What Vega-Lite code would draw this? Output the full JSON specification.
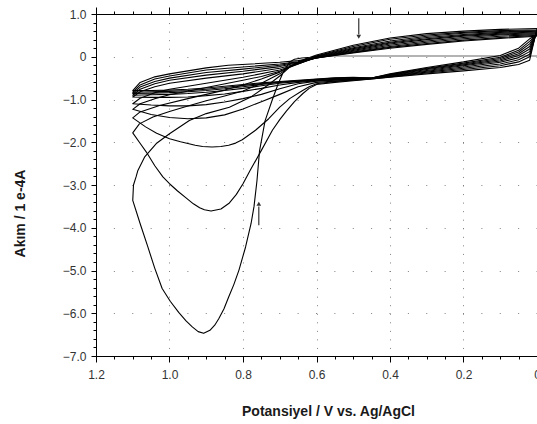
{
"$schema": "https://vega.github.io/schema/vega-lite/v6.json",
"width": 441, "height": 342,
"autosize": {"type": "none"},
"padding": {"left": 96, "top": 14, "right": 0, "bottom": 68},
"background": "white",
"config": {"view": {"stroke": "#000", "strokeWidth": 1},
 "axis": {"labelFont": "Liberation Sans", "titleFont": "Liberation Sans", "domainColor": "#000", "tickColor": "#000", "labelColor": "#333", "labelFontSize": 12, "titleFontSize": 14, "titleFontWeight": "bold", "titleColor": "#1a1a1a", "gridColor": "#808080", "labelOverlap": false}},
"resolve": {"axis": {"x": "independent", "y": "independent"}},
"layer": [
{
 "data": {"values": [{"v": 0.6, "a": 0.015}, {"v": 0.0, "a": 0.015}]},
 "mark": {"type": "line", "color": "#9a9a9a", "strokeWidth": 1.5},
 "encoding": {
  "x": {"field": "v", "type": "quantitative", "scale": {"domain": [0, 1.2], "reverse": true, "nice": false, "zero": false},
   "axis": {"orient": "top", "labels": false, "title": null, "grid": false, "domain": true,
    "values": [0,0.05,0.1,0.15,0.2,0.25,0.3,0.35,0.4,0.45,0.5,0.55,0.6,0.65,0.7,0.75,0.8,0.85,0.9,0.95,1.0,1.05,1.1,1.15,1.2],
    "tickSize": {"condition": {"test": "abs(datum.value*5-round(datum.value*5))<0.001", "value": 7}, "value": 3}}},
  "y": {"field": "a", "type": "quantitative", "scale": {"domain": [-7, 1], "nice": false, "zero": false},
   "axis": {"orient": "left", "labels": false, "title": null, "grid": false, "domain": false, "tickSize": 3,
    "values": [-6.8,-6.6,-6.4,-6.2,-5.8,-5.6,-5.4,-5.2,-4.8,-4.6,-4.4,-4.2,-3.8,-3.6,-3.4,-3.2,-2.8,-2.6,-2.4,-2.2,-1.8,-1.6,-1.4,-1.2,-0.8,-0.6,-0.4,-0.2,0.2,0.4,0.6,0.8]}},
  "order": {"value": null}
 }
},
{
 "data": {"values": [
{"c":1,"v":0.6,"a":0},{"c":1,"v":0.64,"a":-0.03},{"c":1,"v":0.66,"a":-0.06},{"c":1,"v":0.673,"a":-0.12},{"c":1,"v":0.69,"a":-0.35},{"c":1,"v":0.705,"a":-0.65},{"c":1,"v":0.72,"a":-1.0},{"c":1,"v":0.74,"a":-1.5},{"c":1,"v":0.755,"a":-2.2},{"c":1,"v":0.762,"a":-2.9},{"c":1,"v":0.77,"a":-3.5},{"c":1,"v":0.778,"a":-3.9},{"c":1,"v":0.793,"a":-4.45},{"c":1,"v":0.811,"a":-4.99},{"c":1,"v":0.825,"a":-5.33},{"c":1,"v":0.839,"a":-5.62},{"c":1,"v":0.852,"a":-5.9},{"c":1,"v":0.866,"a":-6.13},{"c":1,"v":0.877,"a":-6.28},{"c":1,"v":0.89,"a":-6.4},{"c":1,"v":0.907,"a":-6.47},{"c":1,"v":0.922,"a":-6.43},{"c":1,"v":0.938,"a":-6.32},{"c":1,"v":0.955,"a":-6.18},{"c":1,"v":0.975,"a":-5.98},{"c":1,"v":0.998,"a":-5.72},{"c":1,"v":1.02,"a":-5.42},{"c":1,"v":1.04,"a":-4.95},{"c":1,"v":1.06,"a":-4.42},{"c":1,"v":1.08,"a":-3.9},{"c":1,"v":1.1,"a":-3.36},
{"c":1,"v":1.098,"a":-3.0},{"c":1,"v":1.091,"a":-2.81},{"c":1,"v":1.086,"a":-2.66},{"c":1,"v":1.068,"a":-2.35},{"c":1,"v":1.036,"a":-2.03},{"c":1,"v":1.0,"a":-1.8},{"c":1,"v":0.946,"a":-1.49},{"c":1,"v":0.9,"a":-1.33},{"c":1,"v":0.837,"a":-1.18},{"c":1,"v":0.78,"a":-0.95},{"c":1,"v":0.73,"a":-0.65},{"c":1,"v":0.7,"a":-0.45},{"c":1,"v":0.67,"a":-0.22},{"c":1,"v":0.64,"a":-0.08},{"c":1,"v":0.6,"a":0.04},{"c":1,"v":0.5,"a":0.27},{"c":1,"v":0.4,"a":0.44},{"c":1,"v":0.3,"a":0.54},{"c":1,"v":0.2,"a":0.6},{"c":1,"v":0.1,"a":0.64},{"c":1,"v":0.0,"a":0.66},

{"c":2,"v":0.0,"a":0.66},{"c":2,"v":0.02,"a":-0.08},{"c":2,"v":0.05,"a":-0.18},{"c":2,"v":0.1,"a":-0.25},{"c":2,"v":0.2,"a":-0.33},{"c":2,"v":0.3,"a":-0.4},{"c":2,"v":0.4,"a":-0.48},{"c":2,"v":0.45,"a":-0.52},{"c":2,"v":0.5,"a":-0.56},{"c":2,"v":0.55,"a":-0.6},{"c":2,"v":0.6,"a":-0.65},{"c":2,"v":0.62,"a":-0.74},{"c":2,"v":0.637,"a":-0.86},{"c":2,"v":0.66,"a":-1.05},{"c":2,"v":0.682,"a":-1.27},{"c":2,"v":0.7,"a":-1.47},{"c":2,"v":0.72,"a":-1.72},{"c":2,"v":0.75,"a":-2.19},{"c":2,"v":0.78,"a":-2.65},{"c":2,"v":0.8,"a":-2.97},{"c":2,"v":0.818,"a":-3.22},{"c":2,"v":0.837,"a":-3.42},{"c":2,"v":0.86,"a":-3.56},{"c":2,"v":0.887,"a":-3.61},{"c":2,"v":0.905,"a":-3.58},{"c":2,"v":0.918,"a":-3.53},{"c":2,"v":0.935,"a":-3.44},{"c":2,"v":0.955,"a":-3.3},{"c":2,"v":0.978,"a":-3.14},{"c":2,"v":1.0,"a":-2.97},{"c":2,"v":1.018,"a":-2.81},{"c":2,"v":1.04,"a":-2.55},{"c":2,"v":1.063,"a":-2.23},{"c":2,"v":1.082,"a":-2.0},{"c":2,"v":1.1,"a":-1.78},
{"c":2,"v":1.082,"a":-1.57},{"c":2,"v":1.045,"a":-1.41},{"c":2,"v":1.0,"a":-1.28},{"c":2,"v":0.95,"a":-1.15},{"c":2,"v":0.9,"a":-1.03},{"c":2,"v":0.85,"a":-0.92},{"c":2,"v":0.8,"a":-0.8},{"c":2,"v":0.75,"a":-0.62},{"c":2,"v":0.7,"a":-0.4},{"c":2,"v":0.67,"a":-0.22},{"c":2,"v":0.64,"a":-0.1},{"c":2,"v":0.6,"a":0.02},{"c":2,"v":0.5,"a":0.24},{"c":2,"v":0.4,"a":0.41},{"c":2,"v":0.3,"a":0.51},{"c":2,"v":0.2,"a":0.57},{"c":2,"v":0.1,"a":0.61},{"c":2,"v":0.0,"a":0.63},

{"c":3,"v":0.0,"a":0.63},{"c":3,"v":0.02,"a":0.0},{"c":3,"v":0.05,"a":-0.12},{"c":3,"v":0.1,"a":-0.21},{"c":3,"v":0.2,"a":-0.3},{"c":3,"v":0.3,"a":-0.38},{"c":3,"v":0.4,"a":-0.47},{"c":3,"v":0.45,"a":-0.52},{"c":3,"v":0.5,"a":-0.55},{"c":3,"v":0.55,"a":-0.58},{"c":3,"v":0.6,"a":-0.63},{"c":3,"v":0.62,"a":-0.7},{"c":3,"v":0.64,"a":-0.8},{"c":3,"v":0.673,"a":-0.98},{"c":3,"v":0.7,"a":-1.18},{"c":3,"v":0.73,"a":-1.45},{"c":3,"v":0.766,"a":-1.72},{"c":3,"v":0.802,"a":-1.94},{"c":3,"v":0.82,"a":-2.02},{"c":3,"v":0.839,"a":-2.07},{"c":3,"v":0.86,"a":-2.1},{"c":3,"v":0.884,"a":-2.11},{"c":3,"v":0.91,"a":-2.1},{"c":3,"v":0.93,"a":-2.07},{"c":3,"v":0.97,"a":-1.99},{"c":3,"v":1.0,"a":-1.92},{"c":3,"v":1.035,"a":-1.79},{"c":3,"v":1.065,"a":-1.64},{"c":3,"v":1.1,"a":-1.43},
{"c":3,"v":1.08,"a":-1.29},{"c":3,"v":1.027,"a":-1.14},{"c":3,"v":0.95,"a":-0.98},{"c":3,"v":0.9,"a":-0.88},{"c":3,"v":0.85,"a":-0.78},{"c":3,"v":0.8,"a":-0.66},{"c":3,"v":0.75,"a":-0.52},{"c":3,"v":0.7,"a":-0.36},{"c":3,"v":0.67,"a":-0.22},{"c":3,"v":0.64,"a":-0.1},{"c":3,"v":0.6,"a":0.01},{"c":3,"v":0.5,"a":0.21},{"c":3,"v":0.4,"a":0.37},{"c":3,"v":0.3,"a":0.48},{"c":3,"v":0.2,"a":0.55},{"c":3,"v":0.1,"a":0.59},{"c":3,"v":0.0,"a":0.61},

{"c":4,"v":0.0,"a":0.61},{"c":4,"v":0.02,"a":0.06},{"c":4,"v":0.05,"a":-0.07},{"c":4,"v":0.1,"a":-0.17},{"c":4,"v":0.2,"a":-0.27},{"c":4,"v":0.3,"a":-0.36},{"c":4,"v":0.4,"a":-0.46},{"c":4,"v":0.45,"a":-0.51},{"c":4,"v":0.5,"a":-0.54},{"c":4,"v":0.55,"a":-0.57},{"c":4,"v":0.6,"a":-0.6},{"c":4,"v":0.65,"a":-0.7},{"c":4,"v":0.7,"a":-0.88},{"c":4,"v":0.75,"a":-1.05},{"c":4,"v":0.8,"a":-1.22},{"c":4,"v":0.85,"a":-1.36},{"c":4,"v":0.9,"a":-1.43},{"c":4,"v":0.95,"a":-1.45},{"c":4,"v":1.0,"a":-1.42},{"c":4,"v":1.05,"a":-1.35},{"c":4,"v":1.1,"a":-1.23},
{"c":4,"v":1.08,"a":-1.1},{"c":4,"v":1.04,"a":-0.98},{"c":4,"v":1.0,"a":-0.89},{"c":4,"v":0.9,"a":-0.72},{"c":4,"v":0.8,"a":-0.55},{"c":4,"v":0.75,"a":-0.46},{"c":4,"v":0.7,"a":-0.34},{"c":4,"v":0.65,"a":-0.17},{"c":4,"v":0.6,"a":0.0},{"c":4,"v":0.5,"a":0.19},{"c":4,"v":0.4,"a":0.34},{"c":4,"v":0.3,"a":0.45},{"c":4,"v":0.2,"a":0.52},{"c":4,"v":0.1,"a":0.57},{"c":4,"v":0.0,"a":0.6},

{"c":5,"v":0.0,"a":0.6},{"c":5,"v":0.02,"a":0.12},{"c":5,"v":0.05,"a":-0.02},{"c":5,"v":0.1,"a":-0.13},{"c":5,"v":0.2,"a":-0.24},{"c":5,"v":0.3,"a":-0.34},{"c":5,"v":0.4,"a":-0.45},{"c":5,"v":0.45,"a":-0.51},{"c":5,"v":0.5,"a":-0.53},{"c":5,"v":0.55,"a":-0.55},{"c":5,"v":0.6,"a":-0.57},{"c":5,"v":0.65,"a":-0.63},{"c":5,"v":0.7,"a":-0.75},{"c":5,"v":0.75,"a":-0.88},{"c":5,"v":0.8,"a":-0.98},{"c":5,"v":0.85,"a":-1.06},{"c":5,"v":0.9,"a":-1.12},{"c":5,"v":0.95,"a":-1.15},{"c":5,"v":1.0,"a":-1.15},{"c":5,"v":1.05,"a":-1.13},{"c":5,"v":1.1,"a":-1.1},
{"c":5,"v":1.08,"a":-0.97},{"c":5,"v":1.04,"a":-0.84},{"c":5,"v":1.0,"a":-0.76},{"c":5,"v":0.9,"a":-0.62},{"c":5,"v":0.8,"a":-0.48},{"c":5,"v":0.7,"a":-0.31},{"c":5,"v":0.65,"a":-0.17},{"c":5,"v":0.6,"a":-0.01},{"c":5,"v":0.5,"a":0.17},{"c":5,"v":0.4,"a":0.32},{"c":5,"v":0.3,"a":0.42},{"c":5,"v":0.2,"a":0.5},{"c":5,"v":0.1,"a":0.55},{"c":5,"v":0.0,"a":0.58},

{"c":6,"v":0.0,"a":0.58},{"c":6,"v":0.02,"a":0.18},{"c":6,"v":0.05,"a":0.03},{"c":6,"v":0.1,"a":-0.1},{"c":6,"v":0.2,"a":-0.21},{"c":6,"v":0.3,"a":-0.32},{"c":6,"v":0.4,"a":-0.44},{"c":6,"v":0.45,"a":-0.51},{"c":6,"v":0.5,"a":-0.52},{"c":6,"v":0.55,"a":-0.54},{"c":6,"v":0.6,"a":-0.56},{"c":6,"v":0.65,"a":-0.6},{"c":6,"v":0.7,"a":-0.66},{"c":6,"v":0.75,"a":-0.74},{"c":6,"v":0.8,"a":-0.81},{"c":6,"v":0.85,"a":-0.87},{"c":6,"v":0.9,"a":-0.91},{"c":6,"v":0.95,"a":-0.94},{"c":6,"v":1.0,"a":-0.95},{"c":6,"v":1.05,"a":-0.95},{"c":6,"v":1.1,"a":-0.94},
{"c":6,"v":1.08,"a":-0.82},{"c":6,"v":1.04,"a":-0.7},{"c":6,"v":1.0,"a":-0.62},{"c":6,"v":0.9,"a":-0.5},{"c":6,"v":0.8,"a":-0.4},{"c":6,"v":0.7,"a":-0.27},{"c":6,"v":0.65,"a":-0.16},{"c":6,"v":0.6,"a":-0.02},{"c":6,"v":0.5,"a":0.15},{"c":6,"v":0.4,"a":0.3},{"c":6,"v":0.3,"a":0.4},{"c":6,"v":0.2,"a":0.48},{"c":6,"v":0.1,"a":0.53},{"c":6,"v":0.0,"a":0.56},

{"c":7,"v":0.0,"a":0.56},{"c":7,"v":0.02,"a":0.24},{"c":7,"v":0.05,"a":0.07},{"c":7,"v":0.1,"a":-0.07},{"c":7,"v":0.2,"a":-0.19},{"c":7,"v":0.3,"a":-0.3},{"c":7,"v":0.4,"a":-0.43},{"c":7,"v":0.45,"a":-0.5},{"c":7,"v":0.5,"a":-0.51},{"c":7,"v":0.55,"a":-0.53},{"c":7,"v":0.6,"a":-0.55},{"c":7,"v":0.65,"a":-0.58},{"c":7,"v":0.7,"a":-0.62},{"c":7,"v":0.75,"a":-0.68},{"c":7,"v":0.8,"a":-0.74},{"c":7,"v":0.85,"a":-0.79},{"c":7,"v":0.9,"a":-0.83},{"c":7,"v":0.95,"a":-0.86},{"c":7,"v":1.0,"a":-0.88},{"c":7,"v":1.05,"a":-0.89},{"c":7,"v":1.1,"a":-0.9},
{"c":7,"v":1.08,"a":-0.76},{"c":7,"v":1.04,"a":-0.63},{"c":7,"v":1.0,"a":-0.55},{"c":7,"v":0.9,"a":-0.43},{"c":7,"v":0.8,"a":-0.34},{"c":7,"v":0.7,"a":-0.23},{"c":7,"v":0.65,"a":-0.14},{"c":7,"v":0.6,"a":-0.02},{"c":7,"v":0.5,"a":0.13},{"c":7,"v":0.4,"a":0.27},{"c":7,"v":0.3,"a":0.37},{"c":7,"v":0.2,"a":0.45},{"c":7,"v":0.1,"a":0.51},{"c":7,"v":0.0,"a":0.54},

{"c":8,"v":0.0,"a":0.54},{"c":8,"v":0.02,"a":0.3},{"c":8,"v":0.05,"a":0.11},{"c":8,"v":0.1,"a":-0.04},{"c":8,"v":0.2,"a":-0.17},{"c":8,"v":0.3,"a":-0.28},{"c":8,"v":0.4,"a":-0.42},{"c":8,"v":0.45,"a":-0.5},{"c":8,"v":0.5,"a":-0.5},{"c":8,"v":0.55,"a":-0.51},{"c":8,"v":0.6,"a":-0.54},{"c":8,"v":0.65,"a":-0.57},{"c":8,"v":0.7,"a":-0.6},{"c":8,"v":0.75,"a":-0.65},{"c":8,"v":0.8,"a":-0.7},{"c":8,"v":0.85,"a":-0.75},{"c":8,"v":0.9,"a":-0.79},{"c":8,"v":0.95,"a":-0.82},{"c":8,"v":1.0,"a":-0.84},{"c":8,"v":1.05,"a":-0.85},{"c":8,"v":1.1,"a":-0.86},
{"c":8,"v":1.08,"a":-0.71},{"c":8,"v":1.04,"a":-0.58},{"c":8,"v":1.0,"a":-0.5},{"c":8,"v":0.9,"a":-0.37},{"c":8,"v":0.8,"a":-0.29},{"c":8,"v":0.7,"a":-0.2},{"c":8,"v":0.65,"a":-0.13},{"c":8,"v":0.6,"a":-0.03},{"c":8,"v":0.5,"a":0.11},{"c":8,"v":0.4,"a":0.24},{"c":8,"v":0.3,"a":0.34},{"c":8,"v":0.2,"a":0.42},{"c":8,"v":0.1,"a":0.48},{"c":8,"v":0.0,"a":0.52},

{"c":9,"v":0.0,"a":0.52},{"c":9,"v":0.02,"a":0.36},{"c":9,"v":0.05,"a":0.15},{"c":9,"v":0.1,"a":-0.01},{"c":9,"v":0.2,"a":-0.15},{"c":9,"v":0.3,"a":-0.27},{"c":9,"v":0.4,"a":-0.41},{"c":9,"v":0.45,"a":-0.5},{"c":9,"v":0.5,"a":-0.49},{"c":9,"v":0.55,"a":-0.5},{"c":9,"v":0.6,"a":-0.53},{"c":9,"v":0.65,"a":-0.56},{"c":9,"v":0.7,"a":-0.59},{"c":9,"v":0.75,"a":-0.63},{"c":9,"v":0.8,"a":-0.67},{"c":9,"v":0.85,"a":-0.72},{"c":9,"v":0.9,"a":-0.76},{"c":9,"v":0.95,"a":-0.79},{"c":9,"v":1.0,"a":-0.81},{"c":9,"v":1.05,"a":-0.82},{"c":9,"v":1.1,"a":-0.83},
{"c":9,"v":1.08,"a":-0.66},{"c":9,"v":1.04,"a":-0.52},{"c":9,"v":1.0,"a":-0.45},{"c":9,"v":0.9,"a":-0.31},{"c":9,"v":0.8,"a":-0.24},{"c":9,"v":0.7,"a":-0.17},{"c":9,"v":0.65,"a":-0.12},{"c":9,"v":0.6,"a":-0.03},{"c":9,"v":0.5,"a":0.1},{"c":9,"v":0.4,"a":0.22},{"c":9,"v":0.3,"a":0.31},{"c":9,"v":0.2,"a":0.39},{"c":9,"v":0.1,"a":0.45},{"c":9,"v":0.0,"a":0.5},

{"c":10,"v":0.0,"a":0.5},{"c":10,"v":0.02,"a":0.42},{"c":10,"v":0.05,"a":0.2},{"c":10,"v":0.1,"a":0.03},{"c":10,"v":0.2,"a":-0.12},{"c":10,"v":0.3,"a":-0.25},{"c":10,"v":0.4,"a":-0.4},{"c":10,"v":0.45,"a":-0.5},{"c":10,"v":0.5,"a":-0.48},{"c":10,"v":0.55,"a":-0.49},{"c":10,"v":0.6,"a":-0.52},{"c":10,"v":0.65,"a":-0.55},{"c":10,"v":0.7,"a":-0.58},{"c":10,"v":0.75,"a":-0.61},{"c":10,"v":0.8,"a":-0.65},{"c":10,"v":0.85,"a":-0.69},{"c":10,"v":0.9,"a":-0.73},{"c":10,"v":0.95,"a":-0.76},{"c":10,"v":1.0,"a":-0.78},{"c":10,"v":1.05,"a":-0.79},{"c":10,"v":1.1,"a":-0.79},
{"c":10,"v":1.08,"a":-0.6},{"c":10,"v":1.04,"a":-0.47},{"c":10,"v":1.0,"a":-0.4},{"c":10,"v":0.9,"a":-0.26},{"c":10,"v":0.84,"a":-0.2},{"c":10,"v":0.7,"a":-0.13},{"c":10,"v":0.65,"a":-0.09},{"c":10,"v":0.6,"a":-0.03},{"c":10,"v":0.5,"a":0.09},{"c":10,"v":0.4,"a":0.2},{"c":10,"v":0.3,"a":0.29},{"c":10,"v":0.2,"a":0.37},{"c":10,"v":0.1,"a":0.43},{"c":10,"v":0.0,"a":0.48}
 ]},
 "mark": {"type": "line", "color": "#000", "strokeWidth": 1.1, "interpolate": "linear", "strokeJoin": "round"},
 "encoding": {
  "x": {"field": "v", "type": "quantitative", "scale": {"domain": [0, 1.2], "reverse": true, "nice": false, "zero": false},
   "axis": {"orient": "bottom", "title": "Potansiyel / V vs. Ag/AgCl", "titleX": 232, "titleY": 55, "titleBaseline": "middle", "titleAlign": "center",
    "values": [0,0.2,0.4,0.6,0.8,1.0,1.2],
    "labelExpr": "abs(datum.value)<0.001 ? '0' : format(datum.value, '.1f')",
    "labelPadding": 7, "labelFlush": false, "tickSize": 6,
    "grid": true, "gridDash": [1, 7.55]}},
  "y": {"field": "a", "type": "quantitative", "scale": {"domain": [-7, 1], "nice": false, "zero": false},
   "axis": {"orient": "left", "title": "Akım / 1 e-4A", "titleX": -76, "titleY": 199, "titleBaseline": "middle", "titleAlign": "center", "titleAngle": -90,
    "values": [-7,-6,-5,-4,-3,-2,-1,0,1],
    "labelExpr": "abs(datum.value)<0.001 ? '0' : format(datum.value, '.1f')",
    "labelPadding": 5, "labelFlush": false, "tickSize": 5,
    "grid": true, "gridDash": [1, 17.375]}},
  "detail": {"field": "c", "type": "nominal"},
  "order": {"value": null}
 }
},
{
 "data": {"values": [{"v": 0.485, "a": 0.9, "a2": 0.52}, {"v": 0.757, "a": -3.94, "a2": -3.5}]},
 "mark": {"type": "rule", "color": "#333", "strokeWidth": 1.2},
 "encoding": {
  "x": {"field": "v", "type": "quantitative",
   "axis": {"orient": "bottom", "labels": false, "title": null, "grid": false, "domain": false, "tickSize": 3,
    "values": [0.05,0.1,0.15,0.25,0.3,0.35,0.45,0.5,0.55,0.65,0.7,0.75,0.85,0.9,0.95,1.05,1.1,1.15]}},
  "y": {"field": "a", "type": "quantitative", "axis": null},
  "y2": {"field": "a2"}
 }
},
{
 "data": {"values": [{"v": 0.485, "a": 0.47}]},
 "mark": {"type": "point", "shape": "triangle-down", "filled": true, "color": "#333", "size": 22, "opacity": 1},
 "encoding": {
  "x": {"field": "v", "type": "quantitative", "axis": null},
  "y": {"field": "a", "type": "quantitative", "axis": null}
 }
},
{
 "data": {"values": [{"v": 0.757, "a": -3.44}]},
 "mark": {"type": "point", "shape": "triangle-up", "filled": true, "color": "#333", "size": 22, "opacity": 1},
 "encoding": {
  "x": {"field": "v", "type": "quantitative", "axis": null},
  "y": {"field": "a", "type": "quantitative", "axis": null}
 }
}
]
}
